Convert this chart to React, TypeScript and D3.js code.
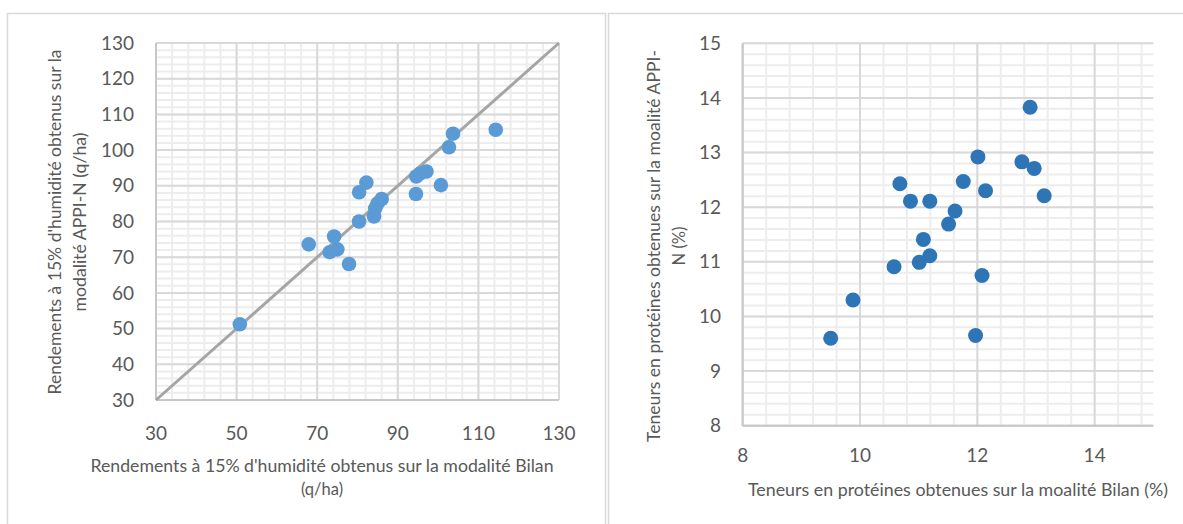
import React from "react";
import * as d3 from "d3";

// Left chart: yields (q/ha)
const yieldBilan = [50.8, 67.9, 74.2, 73.1, 75.0, 77.9, 80.4, 80.4, 82.2, 84.1, 84.4, 85.0, 86.0, 94.5, 94.6, 95.5, 97.1, 100.7, 102.7, 103.7, 114.3];
const yieldAppi = [51.2, 73.6, 75.8, 71.4, 72.2, 68.1, 80.0, 88.2, 90.9, 81.4, 83.7, 85.1, 86.3, 87.7, 92.6, 93.4, 94.0, 90.2, 100.8, 104.6, 105.7];
const yieldTicksX = [30, 50, 70, 90, 110, 130];
const yieldTicksY = [30, 40, 50, 60, 70, 80, 90, 100, 110, 120, 130];

// Right chart: protein contents (%)
const proteinBilan = [9.50, 9.88, 10.58, 10.68, 10.86, 11.19, 11.08, 11.01, 11.19, 11.51, 11.62, 11.76, 12.01, 12.14, 12.08, 11.97, 12.76, 12.97, 12.90, 13.14];
const proteinAppi = [9.60, 10.30, 10.91, 12.43, 12.11, 12.11, 11.41, 10.99, 11.11, 11.69, 11.93, 12.47, 12.92, 12.30, 10.75, 9.65, 12.83, 12.71, 13.83, 12.21];
const proteinTicksX = [8, 10, 12, 14];
const proteinTicksY = [8, 9, 10, 11, 12, 13, 14, 15];

const FONT = "Lato, 'Open Sans', sans-serif";
const TXT = "#595959";
const MAJOR = "#D9D9D9";
const MINOR = "#EDEDED";
const TF = 16.5;

export default function App() {
  // left
  const lx = d3.scaleLinear().domain([30, 130]).range([156, 559]);
  const ly = d3.scaleLinear().domain([30, 130]).range([400, 43]);
  const lMinorX = d3.range(30, 130.001, 4);
  const lMinorY = d3.range(30, 130.001, 2);
  // right
  const rx = d3.scaleLinear().domain([8, 15]).range([742.7, 1153.3]);
  const ry = d3.scaleLinear().domain([8, 15]).range([425.7, 43.3]);
  const rMinorX = d3.range(8, 14.9, 0.4);
  const rMinorY = d3.range(8, 15.001, 0.2);

  return (
    <svg width={1183} height={524} style={{ position: "absolute", left: 0, top: 0, background: "#fff" }} fontFamily={FONT}>
      <rect x={0} y={0} width={1183} height={524} fill="#fff" />
      {/* panel borders */}
      <rect x={7.5} y={13.5} width={598} height={530} fill="none" stroke="#D9D9D9" strokeWidth={1.5} />
      <rect x={608.5} y={13.5} width={600} height={530} fill="none" stroke="#D9D9D9" strokeWidth={1.5} />

      {/* LEFT CHART */}
      <g>
        {lMinorX.map((v) => (
          <line key={"lmx" + v} x1={lx(v)} x2={lx(v)} y1={ly(30)} y2={ly(130)} stroke={MINOR} strokeWidth={2} />
        ))}
        {lMinorY.map((v) => (
          <line key={"lmy" + v} x1={lx(30)} x2={lx(130)} y1={ly(v)} y2={ly(v)} stroke={MINOR} strokeWidth={2} />
        ))}
        {yieldTicksX.map((v) => (
          <line key={"lgx" + v} x1={lx(v)} x2={lx(v)} y1={ly(30)} y2={ly(130)} stroke={MAJOR} strokeWidth={2} />
        ))}
        {yieldTicksY.map((v) => (
          <line key={"lgy" + v} x1={lx(30)} x2={lx(130)} y1={ly(v)} y2={ly(v)} stroke={MAJOR} strokeWidth={2} />
        ))}
        <line x1={lx(30)} x2={lx(30)} y1={ly(30)} y2={ly(130)} stroke="#C8C8C8" strokeWidth={2} />
        <line x1={lx(30)} x2={lx(130)} y1={ly(30)} y2={ly(30)} stroke="#C8C8C8" strokeWidth={2} />
        <line x1={lx(30)} y1={ly(30)} x2={lx(130)} y2={ly(130)} stroke="#A5A5A5" strokeWidth={3} />
        {yieldBilan.map((v, i) => (
          <circle key={"lp" + i} cx={lx(v)} cy={ly(yieldAppi[i])} r={7.3} fill="#5B9BD5" />
        ))}
        {yieldTicksY.map((v) => (
          <text key={"lty" + v} x={134} y={ly(v)} dy="0.35em" textAnchor="end" fontSize={19} fill={TXT}>{v}</text>
        ))}
        {yieldTicksX.map((v) => (
          <text key={"ltx" + v} x={lx(v)} y={433} dy="0.35em" textAnchor="middle" fontSize={19} fill={TXT}>{v}</text>
        ))}
        <text x={322} y={466} dy="0.35em" textAnchor="middle" fontSize={TF} fill={TXT} textLength={463} lengthAdjust="spacingAndGlyphs">Rendements à 15% d'humidité obtenus sur la modalité Bilan</text>
        <text x={322} y={489} dy="0.35em" textAnchor="middle" fontSize={TF} fill={TXT}>(q/ha)</text>
        <g transform="translate(55.5,222) rotate(-90)">
          <text x={0} y={0} dy="0.35em" textAnchor="middle" fontSize={TF} fill={TXT} textLength={345} lengthAdjust="spacingAndGlyphs">Rendements à 15% d'humidité obtenus sur la</text>
          <text x={0} y={24.5} dy="0.35em" textAnchor="middle" fontSize={TF} fill={TXT} textLength={179} lengthAdjust="spacingAndGlyphs">modalité APPI-N (q/ha)</text>
        </g>
      </g>

      {/* RIGHT CHART */}
      <g>
        {rMinorX.map((v) => (
          <line key={"rmx" + v} x1={rx(v)} x2={rx(v)} y1={ry(8)} y2={ry(15)} stroke={MINOR} strokeWidth={2} />
        ))}
        {rMinorY.map((v) => (
          <line key={"rmy" + v} x1={rx(8)} x2={rx(15)} y1={ry(v)} y2={ry(v)} stroke={MINOR} strokeWidth={2} />
        ))}
        {proteinTicksX.map((v) => (
          <line key={"rgx" + v} x1={rx(v)} x2={rx(v)} y1={ry(8)} y2={ry(15)} stroke={MAJOR} strokeWidth={2} />
        ))}
        {proteinTicksY.map((v) => (
          <line key={"rgy" + v} x1={rx(8)} x2={rx(15)} y1={ry(v)} y2={ry(v)} stroke={MAJOR} strokeWidth={2} />
        ))}
        <line x1={rx(8)} x2={rx(8)} y1={ry(8)} y2={ry(15)} stroke="#C8C8C8" strokeWidth={2} />
        <line x1={rx(8)} x2={rx(15)} y1={ry(8)} y2={ry(8)} stroke="#C8C8C8" strokeWidth={2} />
        {proteinBilan.map((v, i) => (
          <circle key={"rp" + i} cx={rx(v)} cy={ry(proteinAppi[i])} r={7.5} fill="#2E75B6" />
        ))}
        {proteinTicksY.map((v) => (
          <text key={"rty" + v} x={721} y={ry(v)} dy="0.35em" textAnchor="end" fontSize={19} fill={TXT}>{v}</text>
        ))}
        {proteinTicksX.map((v) => (
          <text key={"rtx" + v} x={rx(v)} y={455} dy="0.35em" textAnchor="middle" fontSize={19} fill={TXT}>{v}</text>
        ))}
        <text x={958} y={490} dy="0.35em" textAnchor="middle" fontSize={TF} fill={TXT} textLength={420} lengthAdjust="spacingAndGlyphs">Teneurs en protéines obtenues sur la moalité Bilan (%)</text>
        <g transform="translate(654.5,246) rotate(-90)">
          <text x={0} y={0} dy="0.35em" textAnchor="middle" fontSize={TF} fill={TXT} textLength={392} lengthAdjust="spacingAndGlyphs">Teneurs en protéines obtenues sur la moalité APPI-</text>
          <text x={0} y={24.5} dy="0.35em" textAnchor="middle" fontSize={TF} fill={TXT}>N (%)</text>
        </g>
      </g>
    </svg>
  );
}
